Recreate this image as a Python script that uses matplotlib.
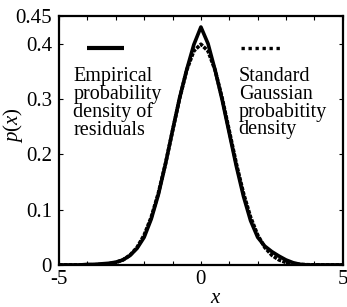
import numpy as np
import matplotlib
matplotlib.use('Agg')
import matplotlib.pyplot as plt

# x grid and values
x = [-5.0, -4.75, -4.5, -4.25, -4.0, -3.75, -3.5, -3.25, -3.0, -2.75, -2.5,
     -2.25, -2.0, -1.75, -1.5, -1.25, -1.0, -0.75, -0.5, -0.25, 0.0,
     0.25, 0.5, 0.75, 1.0, 1.25, 1.5, 1.75, 2.0, 2.25, 2.5,
     2.75, 3.0, 3.25, 3.5, 3.75, 4.0, 4.25, 4.5, 4.75, 5.0]

p_empirical = [0.0, 0.0, 0.0, 0.0, 0.001, 0.001, 0.002, 0.003, 0.005, 0.009, 0.017,
               0.030, 0.050, 0.083, 0.127, 0.182, 0.243, 0.302, 0.353, 0.398, 0.430,
               0.400, 0.352, 0.298, 0.238, 0.178, 0.124, 0.080, 0.050, 0.034, 0.024,
               0.016, 0.009, 0.004, 0.001, 0.0, 0.0, 0.0, 0.0, 0.0, 0.0]

p_gauss = [0.0, 0.0, 0.0, 0.0, 0.0001, 0.0004, 0.0009, 0.002, 0.0044, 0.0091, 0.0175,
           0.0317, 0.054, 0.0863, 0.1295, 0.1826, 0.242, 0.3011, 0.3521, 0.3867, 0.3989,
           0.3867, 0.3521, 0.3011, 0.242, 0.1826, 0.1295, 0.0863, 0.054, 0.0317, 0.0175,
           0.0091, 0.0044, 0.002, 0.0009, 0.0004, 0.0001, 0.0, 0.0, 0.0, 0.0]

plt.rcParams['font.family'] = ['Liberation Serif', 'DejaVu Serif']
plt.rcParams['mathtext.fontset'] = 'custom'
plt.rcParams['mathtext.it'] = 'Liberation Serif:italic'
plt.rcParams['mathtext.rm'] = 'Liberation Serif'

fig = plt.figure(figsize=(3.47, 3.07), dpi=100)
ax = fig.add_axes([0.170, 0.137, 0.818, 0.811])

ax.plot(x, p_gauss, color='black', lw=2.6, linestyle=(0, (1, 0.35)))
ax.plot(x, p_empirical, color='black', lw=2.6)

# legend-like annotations
ax.plot([-4.0, -2.7], [0.392, 0.392], color='black', lw=3.0, solid_capstyle='butt')
ax.plot([1.4, 2.8], [0.392, 0.392], color='black', lw=2.4, linestyle=(0, (1, 1.1)))
ax.text(-4.5, 0.357, 'Empirical\nprobability\ndensity of\nresiduals',
        fontsize=14.5, va='top', ha='left', linespacing=0.9)
ax.text(1.33, 0.357, 'Standard\nGaussian\nprobabitity\ndensity',
        fontsize=14.5, va='top', ha='left', linespacing=0.9)

ax.set_xlim(-5, 5)
ax.set_ylim(0, 0.45)
ax.set_xticks(np.arange(-5, 6, 1))
ax.set_xticklabels(['-5', '', '', '', '', '0', '', '', '', '', '5'])
ax.set_yticks([0, 0.1, 0.2, 0.3, 0.4, 0.45])
ax.set_yticklabels(['0', '0.1', '0.2', '0.3', '0.4', '0.45'])
ax.tick_params(direction='in', top=True, right=True, length=3, width=0.8,
               labelsize=15)
ax.tick_params(axis='y', pad=5)
ax.tick_params(axis='x', pad=4)
for s in ax.spines.values():
    s.set_linewidth(1.6)

ax.set_xlabel('$x$', fontsize=15)
ax.set_ylabel('$p(x)$', fontsize=15)
ax.xaxis.set_label_coords(0.553, -0.095)
ax.yaxis.set_label_coords(-0.12, 0.56)

plt.savefig('out.png', dpi=100)
